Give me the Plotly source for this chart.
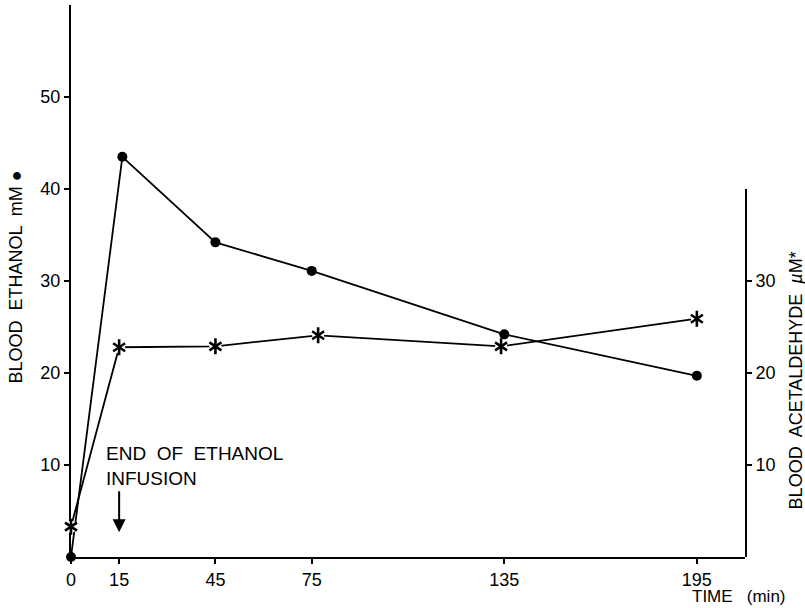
import plotly.graph_objects as go

# Blood ethanol (mM) over time
ethanol_time = [0, 16, 45, 75, 135, 195]
ethanol_mM = [0, 43.5, 34.2, 31.1, 24.2, 19.7]

# Blood acetaldehyde (µM) over time
acet_time = [0, 15, 45, 77, 134, 195]
acet_uM = [3.3, 22.8, 22.9, 24.1, 22.9, 25.9]

x_ticks = [0, 15, 45, 75, 135, 195]
y_ticks = [10, 20, 30, 40, 50]
y2_ticks = [10, 20, 30]

FONT = "Liberation Sans, Arial, sans-serif"
INK = "black"

fig = go.Figure()

fig.add_trace(go.Scatter(
    x=ethanol_time, y=ethanol_mM, mode="lines+markers",
    line=dict(color=INK, width=1.8),
    marker=dict(symbol="circle", size=10, color=INK),
    cliponaxis=False, showlegend=False, xaxis="x", yaxis="y",
))

fig.add_trace(go.Scatter(
    x=acet_time, y=acet_uM, mode="lines",
    line=dict(color=INK, width=1.8),
    cliponaxis=False, showlegend=False, xaxis="x", yaxis="y2",
))
# white halo so the line stops short of each asterisk
fig.add_trace(go.Scatter(
    x=acet_time, y=acet_uM, mode="markers",
    marker=dict(symbol="circle", size=12, color="white"),
    cliponaxis=False, showlegend=False, xaxis="x", yaxis="y2",
))
# six-armed asterisk built from two three-armed symbols
for sym in ["y-up-open", "y-down-open"]:
    fig.add_trace(go.Scatter(
        x=acet_time, y=acet_uM, mode="markers",
        marker=dict(symbol=sym, size=10, color=INK,
                    line=dict(color=INK, width=2.6)),
        cliponaxis=False, showlegend=False, xaxis="x", yaxis="y2",
    ))

axis_common = dict(
    showgrid=False, zeroline=False, showline=True, linecolor=INK, linewidth=2,
    ticks="outside", ticklen=5, tickwidth=2, tickcolor=INK,
    tickfont=dict(family=FONT, size=18, color=INK),
)

fig.update_layout(
    width=805, height=608,
    margin=dict(l=71, r=60, t=5, b=51),
    paper_bgcolor="white", plot_bgcolor="rgba(0,0,0,0)",
    xaxis=dict(range=[0, 210], tickmode="array", tickvals=x_ticks,
               anchor="y", **axis_common),
    yaxis=dict(range=[0, 60], tickmode="array", tickvals=y_ticks,
               domain=[0, 1], anchor="x", **axis_common),
    yaxis2=dict(range=[0, 40], tickmode="array", tickvals=y2_ticks,
                domain=[0, 40 / 60], anchor="x", side="right", **axis_common),
)

text_font = dict(family=FONT, size=18, color=INK)

# axis titles
fig.add_annotation(text="BLOOD  ETHANOL  mM ●", textangle=-90,
                   xref="paper", yref="paper", x=-0.081, y=0.507,
                   xanchor="center", yanchor="middle", showarrow=False,
                   font=text_font)
fig.add_annotation(text="BLOOD  ACETALDEHYDE  <i>µ</i>M*", textangle=-90,
                   xref="paper", yref="paper", x=1.0757, y=0.32,
                   xanchor="center", yanchor="middle", showarrow=False,
                   font=text_font)
fig.add_annotation(text="TIME   (min)",
                   xref="paper", yref="paper", x=0.991, y=-0.0905,
                   xanchor="center", yanchor="bottom", showarrow=False,
                   borderpad=0,
                   font=dict(family=FONT, size=17, color=INK))

# infusion marker
fig.add_annotation(text="END  OF  ETHANOL<br>INFUSION", align="left",
                   xref="x", yref="y", x=10.4, y=9.84,
                   xanchor="left", yanchor="middle", showarrow=False,
                   font=dict(family=FONT, size=19, color=INK))
fig.add_annotation(text="", xref="x", yref="y", x=15, y=2.7,
                   axref="x", ayref="y", ax=15, ay=7.3,
                   showarrow=True, arrowhead=2, arrowsize=1.3,
                   arrowwidth=2, arrowcolor=INK)

fig.write_html("out.html")
